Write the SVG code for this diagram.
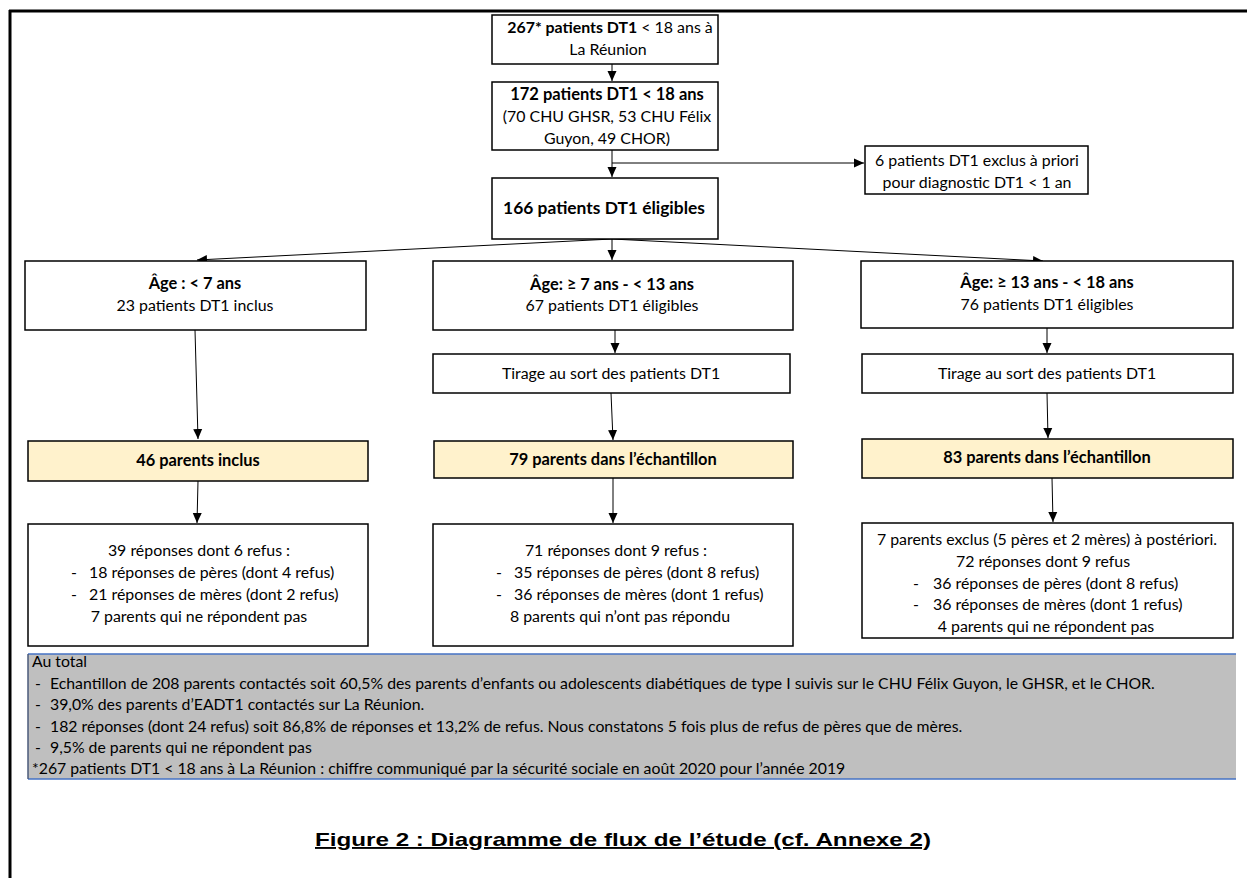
<svg xmlns="http://www.w3.org/2000/svg" width="1247" height="878" viewBox="0 0 1247 878">
<defs>
<marker id="ah" markerUnits="userSpaceOnUse" markerWidth="10" markerHeight="10" viewBox="0 0 10 10" refX="10" refY="5" orient="auto">
<path d="M0,0.5 L10,5 L0,9.5 Z" fill="#000"/>
</marker>
<style>
.bx{fill:#fff;stroke:#000;stroke-width:1.5}
.yl{fill:#fff2cc;stroke:#000;stroke-width:1.5}
.t{font-family:Lato,"Liberation Sans",sans-serif;font-size:15.9px;fill:#000;text-anchor:middle}
.tl{font-family:Lato,"Liberation Sans",sans-serif;font-size:15.9px;fill:#000}
.b{font-weight:bold;font-size:16.4px}
.c{fill:none;stroke:#000;stroke-width:1;marker-end:url(#ah)}
.g{font-family:Lato,"Liberation Sans",sans-serif;font-size:15.8px;fill:#000}
</style>
</defs>
<rect width="1247" height="878" fill="#fff"/>
<g id="frame">
<line x1="9" y1="11" x2="1247" y2="11" stroke="#000" stroke-width="3"/>
<line x1="10" y1="10" x2="10" y2="878" stroke="#000" stroke-width="3"/>
</g>
<g id="connectors">
<path class="c" d="M612,64 L612,81"/>
<path class="c" d="M612,150 L612,177"/>
<path class="c" d="M612,163 L864,163"/>
<path class="c" d="M612,239 L197,260"/>
<path class="c" d="M612,239 L612,260"/>
<path class="c" d="M612,239 L1043,261"/>
<path class="c" d="M195,330 L198,439"/>
<path class="c" d="M198,481 L197,523"/>
<path class="c" d="M615,330 L615,353"/>
<path class="c" d="M611,393 L613,440"/>
<path class="c" d="M613,478 L613,523"/>
<path class="c" d="M1047,328 L1047,353"/>
<path class="c" d="M1047,393 L1048,438"/>
<path class="c" d="M1052,478 L1053,522"/>
</g>
<g id="n1">
<rect class="bx" x="492" y="15" width="226" height="49"/>
<text class="t" x="610" y="33"><tspan class="b" style="font-size:15.9px">267* patients DT1</tspan> &lt; 18 ans à</text>
<text class="t" x="608" y="55">La Réunion</text>
</g>
<g id="n2">
<rect class="bx" x="492" y="82" width="226" height="68"/>
<text class="t b" x="607" y="100" style="font-size:16.5px">172 patients DT1  &lt; 18 ans</text>
<text class="t" x="607" y="122">(70 CHU GHSR, 53 CHU Félix</text>
<text class="t" x="607" y="144">Guyon,  49 CHOR)</text>
</g>
<g id="n_exclus">
<rect class="bx" x="865" y="146" width="223" height="48"/>
<text class="t" x="977" y="166">6 patients DT1 exclus à priori</text>
<text class="t" x="977" y="188">pour diagnostic DT1 &lt; 1 an</text>
</g>
<g id="n3">
<rect class="bx" x="492" y="178" width="226" height="61"/>
<text class="t b" x="604" y="214" style="font-size:17.4px">166 patients DT1 éligibles</text>
</g>
<g id="age1">
<rect class="bx" x="25" y="261" width="341" height="69"/>
<text class="t b" x="195" y="289">Âge : &lt; 7 ans</text>
<text class="t" x="195" y="311">23 patients DT1 inclus</text>
</g>
<g id="age2">
<rect class="bx" x="433" y="261" width="360" height="69"/>
<text class="t b" x="612" y="290">Âge:  ≥ 7 ans - &lt; 13 ans</text>
<text class="t" x="612" y="311">67 patients DT1 éligibles</text>
</g>
<g id="age3">
<rect class="bx" x="861" y="261" width="372" height="67"/>
<text class="t b" x="1047" y="288">Âge:  ≥ 13 ans - &lt; 18 ans</text>
<text class="t" x="1047" y="310">76 patients DT1 éligibles</text>
</g>
<g id="tirage2">
<rect class="bx" x="433" y="354" width="357" height="39"/>
<text class="t" x="611" y="379">Tirage au sort des patients DT1</text>
</g>
<g id="tirage3">
<rect class="bx" x="862" y="354" width="371" height="39"/>
<text class="t" x="1047" y="379">Tirage au sort des patients DT1</text>
</g>
<g id="par1">
<rect class="yl" x="28" y="441" width="340" height="40"/>
<text class="t b" x="198" y="466">46 parents inclus</text>
</g>
<g id="par2">
<rect class="yl" x="434" y="441" width="359" height="37"/>
<text class="t b" x="613" y="465">79 parents dans l’échantillon</text>
</g>
<g id="par3">
<rect class="yl" x="862" y="439" width="371" height="39"/>
<text class="t b" x="1047" y="463">83 parents dans l’échantillon</text>
</g>
<g id="rep1">
<rect class="bx" x="28" y="524" width="340" height="122"/>
<text class="t" x="199" y="556">39 réponses dont 6 refus :</text>
<text class="tl" x="71" y="578">-</text>
<text class="tl" x="89" y="578">18 réponses de pères (dont 4 refus)</text>
<text class="tl" x="71" y="600">-</text>
<text class="tl" x="89" y="600">21 réponses de mères (dont 2 refus)</text>
<text class="t" x="199" y="622">7 parents qui ne répondent pas</text>
</g>
<g id="rep2">
<rect class="bx" x="433" y="524" width="360" height="122"/>
<text class="t" x="616" y="556">71 réponses dont 9 refus :</text>
<text class="tl" x="496" y="578">-</text>
<text class="tl" x="514" y="578">35 réponses de pères (dont 8 refus)</text>
<text class="tl" x="496" y="600">-</text>
<text class="tl" x="514" y="600">36 réponses de mères (dont 1 refus)</text>
<text class="t" x="620" y="622">8 parents qui n’ont pas répondu</text>
</g>
<g id="rep3">
<rect class="bx" x="862" y="523" width="371" height="115"/>
<text class="t" x="1047" y="545">7 parents exclus (5 pères et 2 mères) à postériori.</text>
<text class="t" x="1043" y="567">72 réponses dont 9 refus</text>
<text class="tl" x="913" y="589">-</text>
<text class="tl" x="933" y="589">36 réponses de pères (dont 8 refus)</text>
<text class="tl" x="913" y="610">-</text>
<text class="tl" x="933" y="610">36 réponses de mères (dont 1 refus)</text>
<text class="t" x="1046" y="632">4 parents qui ne répondent pas</text>
</g>
<g id="total">
<rect x="28" y="654" width="1208" height="125" fill="#bfbfbf"/>
<line x1="28" y1="654" x2="1236" y2="654" stroke="#4472c4" stroke-width="1.5"/>
<line x1="28" y1="779" x2="1236" y2="779" stroke="#4472c4" stroke-width="1.5"/>
<line x1="28" y1="654" x2="28" y2="779" stroke="#4a5a7a" stroke-width="1.5"/>
<text class="g" x="32" y="667">Au total</text>
<text class="g" x="35" y="689">-</text>
<text class="g" x="50" y="689">Echantillon de 208 parents contactés soit 60,5% des parents d’enfants ou adolescents diabétiques de type I suivis sur le CHU Félix Guyon, le GHSR, et le CHOR.</text>
<text class="g" x="35" y="710">-</text>
<text class="g" x="50" y="710">39,0% des parents d’EADT1 contactés sur La Réunion.</text>
<text class="g" x="35" y="732">-</text>
<text class="g" x="50" y="732">182 réponses (dont 24 refus) soit 86,8% de réponses et 13,2% de refus. Nous constatons 5 fois plus de refus de pères que de mères.</text>
<text class="g" x="35" y="753">-</text>
<text class="g" x="50" y="753">9,5% de parents qui ne répondent pas</text>
<text class="g" x="32" y="774">*267 patients DT1 &lt; 18 ans à La Réunion : chiffre communiqué par la sécurité sociale en août 2020 pour l’année 2019</text>
</g>
<g id="caption">
<text x="623" y="846" text-anchor="middle" font-family="Liberation Sans, Arial, sans-serif" font-size="19" font-weight="bold" text-decoration="underline" textLength="616" lengthAdjust="spacingAndGlyphs">Figure 2 : Diagramme de flux de l’étude (cf. Annexe 2)</text>
</g>
</svg>
